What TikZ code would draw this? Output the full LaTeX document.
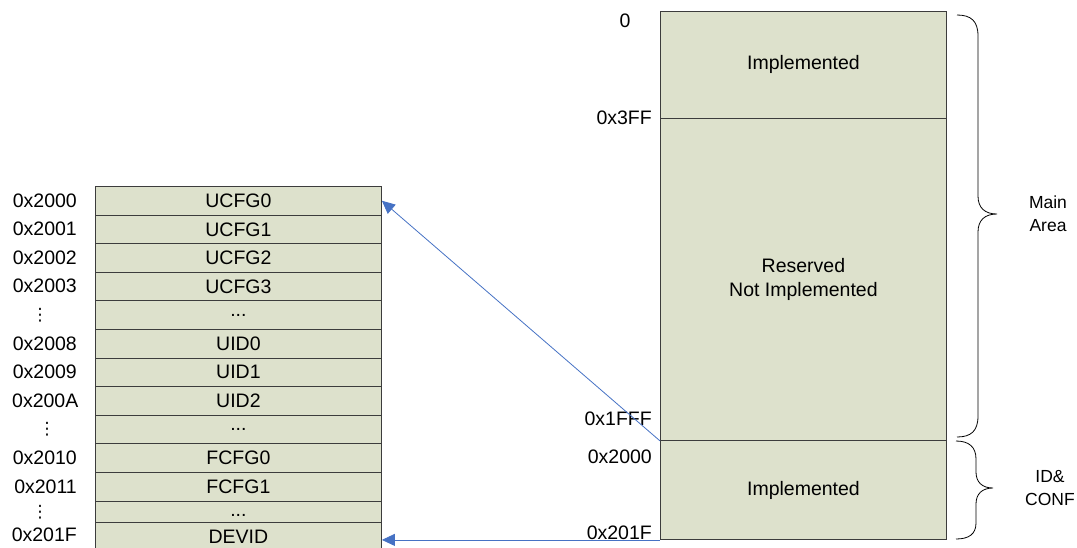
\documentclass[tikz,border=0pt]{standalone}
\usepackage{fontspec}
\setmainfont{Liberation Sans}
\newfontfamily\dejavu{DejaVu Sans}
\usetikzlibrary{arrows.meta}
\definecolor{cellfill}{RGB}{221,225,204}
\definecolor{cellline}{RGB}{60,60,60}
\definecolor{linkblue}{RGB}{70,114,196}
\newcommand\mydots{...}
\begin{document}
\begin{tikzpicture}[x=1pt,y=-1pt,
  font=\fontsize{19.5}{23.5}\selectfont,
  cell/.style={draw=cellline,line width=0.9pt,fill=cellfill,minimum width=286pt,minimum height=28.6pt,inner sep=0pt,anchor=north west},
  block/.style={draw=cellline,line width=0.9pt,fill=cellfill,minimum width=286pt,inner sep=0pt,anchor=north west,align=center},
  addr/.style={anchor=east,inner sep=0pt},
  vdots/.style={inner sep=0pt,font=\dejavu\fontsize{17}{19}\selectfont},
  link/.style={draw=linkblue,line width=0.8pt,-{Triangle[length=13pt,width=12pt]}},
  bracepath/.style={draw=black,line width=0.8pt},
  side/.style={align=center,inner sep=0pt,font=\fontsize{17.5}{23}\selectfont}]
\useasboundingbox (0,0) rectangle (1077,547);
\begin{scope}
\clip (0,0) rectangle (1077,547);
% left table
\foreach \i/\t in {0/UCFG0,1/UCFG1,2/UCFG2,3/UCFG3,4/\mydots,5/UID0,6/UID1,7/UID2,8/\mydots,9/FCFG0,10/FCFG1,11/\mydots}{
  \node[cell] (r\i) at (95,{186+28.6*\i}) {\t};
}
\node[cell] (devid) at (95,522) {DEVID};
\end{scope}
% left addresses
\node[addr] (a0) at (77,200.5) {0x2000};
\node[addr] (a1) at (77,229) {0x2001};
\node[addr] (a2) at (77,257.5) {0x2002};
\node[addr] (a3) at (77,286) {0x2003};
\node[vdots] (d1) at (40,315) {⋮};
\node[addr] (a8) at (77,343.5) {0x2008};
\node[addr] (a9) at (77,372) {0x2009};
\node[addr] (aA) at (78.5,400.5) {0x200A};
\node[vdots] (d2) at (47,429.5) {⋮};
\node[addr] (a10) at (77,458) {0x2010};
\node[addr] (a11) at (77,486.5) {0x2011};
\node[vdots] (d3) at (40,512) {⋮};
\node[addr] (a1F) at (77,535) {0x201F};
% right map
\node[block,minimum height=107pt] (top) at (660,11) {Implemented};
\node[block,minimum height=322pt] (mid) at (660,118) {Reserved\\Not Implemented};
\node[block,minimum height=99pt] (bot) at (660,440) {Implemented};
% right addresses
\node[inner sep=0pt] (l0) at (625,21) {0};
\node[addr] (l3FF) at (652,118) {0x3FF};
\node[addr] (l1FFF) at (652,419) {0x1FFF};
\node[addr] (l2000) at (652,457) {0x2000};
\node[addr] (l201F) at (652,533) {0x201F};
% braces
\draw[bracepath] (957,15) .. controls (971,15) and (978,21) .. (978,36) -- (978,196)
  .. controls (978,208) and (985,214) .. (997,214)
  .. controls (985,214) and (978,220) .. (978,232) -- (978,416)
  .. controls (978,431) and (971,437) .. (957,437);
\draw[bracepath] (956,441) .. controls (969,441) and (976,447) .. (976,459) -- (976,472)
  .. controls (976,482) and (982,488) .. (993,488)
  .. controls (982,488) and (976,494) .. (976,504) -- (976,523)
  .. controls (976,534) and (969,539) .. (956,539);
\node[side] (main) at (1048,214) {Main\\Area};
\node[side] (idconf) at (1050,488) {ID\&\\CONF};
% links
\draw[link] (mid.south west) -- (r0.east);
\draw[link] (bot.south west) -- (bot.south west -| devid.east);
\end{tikzpicture}
\end{document}
